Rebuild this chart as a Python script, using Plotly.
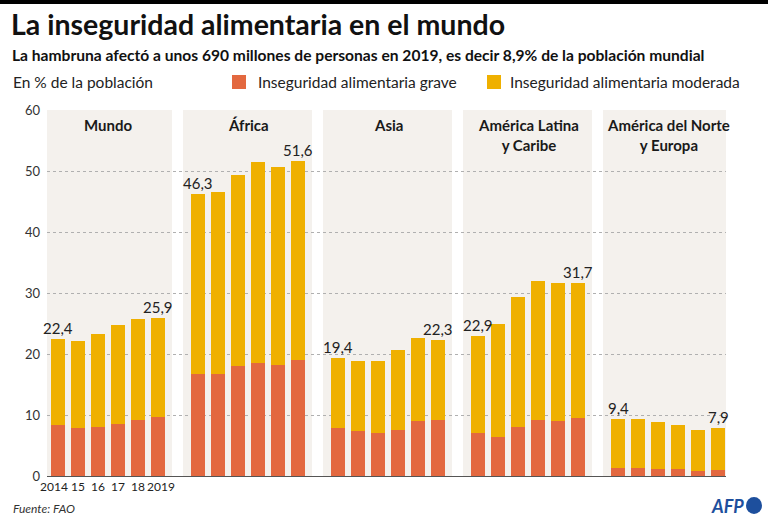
import plotly.graph_objects as go

# ---- data ----
groups = ["Mundo", "África", "Asia", "América Latina<br>y Caribe", "América del Norte<br>y Europa"]
years = ["2014", "15", "16", "17", "18", "2019"]
total = {
    "Mundo": [22.4, 22.2, 23.2, 24.8, 25.8, 25.9],
    "África": [46.3, 46.5, 49.4, 51.4, 50.7, 51.6],
    "Asia": [19.4, 18.9, 18.9, 20.6, 22.6, 22.3],
    "América Latina<br>y Caribe": [22.9, 25.0, 29.4, 32.0, 31.6, 31.7],
    "América del Norte<br>y Europa": [9.4, 9.3, 8.8, 8.3, 7.6, 7.9],
}
grave = {
    "Mundo": [8.3, 7.9, 8.0, 8.5, 9.2, 9.7],
    "África": [16.7, 16.8, 18.1, 18.5, 18.2, 19.0],
    "Asia": [7.9, 7.4, 7.0, 7.5, 9.0, 9.1],
    "América Latina<br>y Caribe": [7.0, 6.4, 8.0, 9.1, 9.0, 9.5],
    "América del Norte<br>y Europa": [1.3, 1.3, 1.2, 1.1, 0.9, 1.0],
}
series_names = ["Inseguridad alimentaria grave", "Inseguridad alimentaria moderada"]
yticks = [0, 10, 20, 30, 40, 50, 60]

C_GRAVE = "#e3683f"
C_MOD = "#efb000"
C_PANEL = "#f4f1ed"
FONT = "Lato, sans-serif"

W_, H_ = 768, 523
L, R, T, B = 47, 42, 110, 47
PW = W_ - L - R
PH = H_ - T - B

def X(px):
    return (px - L) / PW

def Y(py):
    return (H_ - B - py) / PH

xs, g_vals, m_vals = [], [], []
for gi, g in enumerate(groups):
    for yi in range(len(years)):
        xs.append(gi * 7 + yi)
        g_vals.append(grave[g][yi])
        m_vals.append(round(total[g][yi] - grave[g][yi], 2))

fig = go.Figure()
fig.add_trace(go.Bar(x=xs, y=g_vals, name=series_names[0], marker_color=C_GRAVE,
                     marker_line_width=0, width=0.72, showlegend=False))
fig.add_trace(go.Bar(x=xs, y=m_vals, name=series_names[1], marker_color=C_MOD,
                     marker_line_width=0, width=0.72, showlegend=False))

shapes = []
annotations = []
for gi, g in enumerate(groups):
    gs = gi * 7
    shapes.append(dict(type="rect", xref="x", yref="y", x0=gs - 0.75, x1=gs + 5.7,
                       y0=0, y1=60, fillcolor=C_PANEL, line_width=0, layer="below"))
    annotations.append(dict(x=gs + 2.5, xref="x", y=Y(114), yref="paper", text="<b>%s</b>" % g,
                            showarrow=False, xanchor="center", yanchor="top",
                            font=dict(family=FONT, size=15, color="#1a1a1a")))
    for yi in (0, 5):
        annotations.append(dict(x=gs + yi, xref="x", y=total[g][yi], yref="y",
                                text=("%.1f" % total[g][yi]).replace(".", ","),
                                showarrow=False, xanchor="center", yanchor="bottom", yshift=0,
                                font=dict(family=FONT, size=15, color="#222")))

# top black band
shapes.append(dict(type="rect", xref="paper", yref="paper", x0=X(0), x1=X(768), y0=Y(4), y1=Y(0),
                   fillcolor="#000", line_width=0))
# legend squares
shapes.append(dict(type="rect", xref="paper", yref="paper", x0=X(232), x1=X(246), y0=Y(89), y1=Y(75),
                   fillcolor=C_GRAVE, line_width=0))
shapes.append(dict(type="rect", xref="paper", yref="paper", x0=X(487), x1=X(501), y0=Y(89), y1=Y(75),
                   fillcolor=C_MOD, line_width=0))
# AFP circle
shapes.append(dict(type="circle", xref="paper", yref="paper", x0=X(746), x1=X(762), y0=Y(514), y1=Y(497),
                   fillcolor="#1d4f9d", line_width=0))

def txt(px, py, s, size, bold=False, italic=False, color="#222", anchor="left"):
    if bold:
        s = "<b>%s</b>" % s
    if italic:
        s = "<i>%s</i>" % s
    annotations.append(dict(x=X(px), y=Y(py), xref="paper", yref="paper", text=s, showarrow=False,
                            xanchor=anchor, yanchor="middle",
                            font=dict(family=FONT, size=size, color=color)))

txt(9, 24, "La inseguridad alimentaria en el mundo", 28.5, bold=True, color="#111")
txt(10, 55, "La hambruna afectó a unos 690 millones de personas en 2019, es decir 8,9% de la población mundial", 15.6, bold=True, color="#111")
txt(11, 82, "En % de la población", 15.5)
txt(256, 82, series_names[0], 15.5)
txt(508, 82, series_names[1], 15.5)
txt(11, 508, "Fuente: FAO", 12, italic=True, color="#333")
txt(746, 506, "AFP", 18, bold=True, italic=True, color="#1d4f9d", anchor="right")

fig.update_layout(
    width=W_, height=H_, margin=dict(l=L, r=R, t=T, b=B, pad=0),
    paper_bgcolor="white", plot_bgcolor="white",
    barmode="stack", bargap=0, showlegend=False,
    shapes=shapes, annotations=annotations,
    font=dict(family=FONT, color="#333"),
)
fig.update_xaxes(range=[-0.55, 33.4], tickmode="array", tickvals=[-0.2, 1, 2, 3, 4, 5.15],
                 ticktext=years, tickangle=0, showgrid=False, zeroline=False, showline=True,
                 linecolor="#555", linewidth=1, ticks="",
                 tickfont=dict(size=12, color="#222", family=FONT))
fig.update_yaxes(range=[0, 60], tickmode="array", tickvals=yticks, showgrid=True,
                 gridcolor="#b0b0b0", griddash="dot", gridwidth=1, zeroline=False,
                 ticks="", tickfont=dict(size=13, color="#333", family=FONT), ticklabelstandoff=6)

fig.write_html("out.html")
